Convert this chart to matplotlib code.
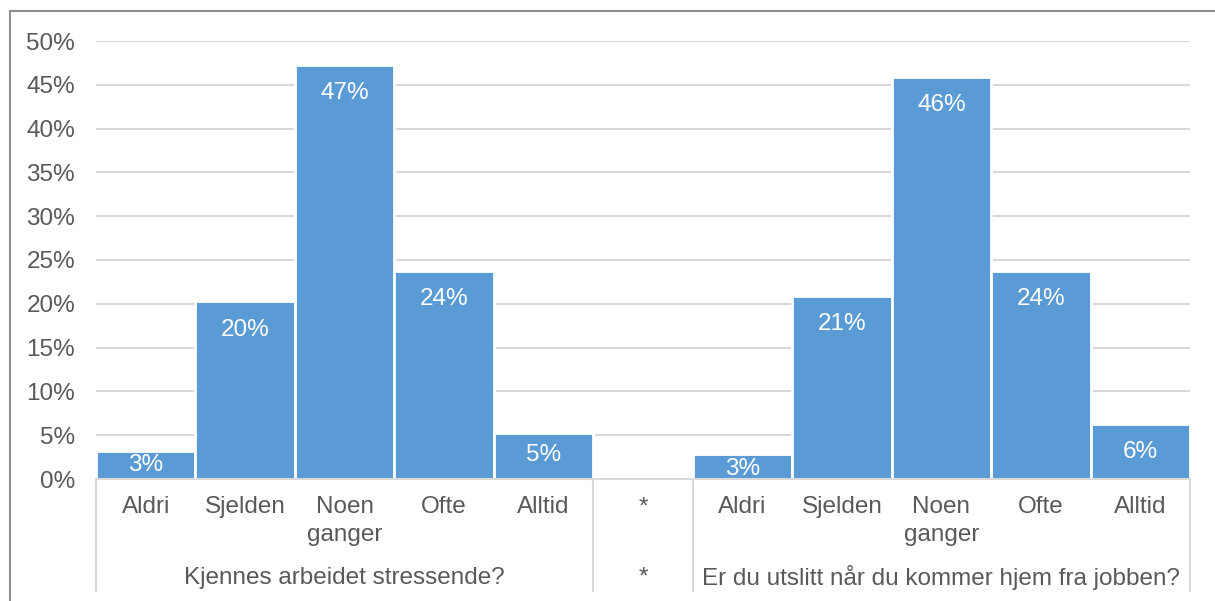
import matplotlib
matplotlib.use("Agg")
import matplotlib.pyplot as plt
from matplotlib.patches import Rectangle
from matplotlib.lines import Line2D

categories = ["Aldri", "Sjelden", "Noen\nganger", "Ofte", "Alltid", "*",
              "Aldri", "Sjelden", "Noen\nganger", "Ofte", "Alltid"]
values = [3.2, 20.3, 47.3, 23.8, 5.3, None, 2.8, 20.9, 45.9, 23.8, 6.3]
labels = ["3%", "20%", "47%", "24%", "5%", "", "3%", "21%", "46%", "24%", "6%"]
groups = ["Kjennes arbeidet stressende?", "*", "Er du utslitt når du kommer hjem fra jobben?"]
group_spans = [(0, 5), (5, 6), (6, 11)]
yticks = [0, 5, 10, 15, 20, 25, 30, 35, 40, 45, 50]

plt.rcParams['font.family'] = ['Liberation Sans', 'DejaVu Sans']
FS = 17.5
TXT = "#595959"
W, H = 1215, 601
fig = plt.figure(figsize=(W / 100, H / 100), dpi=100)
fig.patch.set_facecolor("white")

# outer chart border (right/bottom edges fall outside the image)
fig.patches.append(Rectangle((10 / W, -0.05), 1.1, 1 - 11 / H + 0.05,
                             transform=fig.transFigure, fill=False,
                             edgecolor="#8c8c8c", linewidth=1.5, clip_on=False))

x0, x1 = 96 / W, 1190 / W
y0, y1 = 1 - 479 / H, 1 - 41 / H
ax = fig.add_axes([x0, y0, x1 - x0, y1 - y0])
n = len(categories)
xs = list(range(n))
bx = [x for x, v in zip(xs, values) if v is not None]
bv = [v for v in values if v is not None]
bl = [l for l, v in zip(labels, values) if v is not None]
bars = ax.bar(bx, bv, width=1.0, color="#5b9bd5", edgecolor="white", linewidth=2.0, zorder=3)
for b, lab in zip(bars, bl):
    h = b.get_height()
    ly = max(h - 3.0, min(2.97, h - 1.4)) - 0.25
    ax.text(b.get_x() + b.get_width() / 2, ly, lab,
            ha="center", va="center", color="white", fontsize=FS, zorder=4)

ax.set_xlim(-0.5, n - 0.5)
ax.set_ylim(0, 50)
ax.set_yticks(yticks)
ax.set_yticklabels([f"{t}%" for t in yticks])
ax.tick_params(axis="y", length=0, labelsize=FS, labelcolor=TXT, pad=15)
ax.set_xticks([])
ax.yaxis.grid(True, color="#d9d9d9", linewidth=1.5, zorder=0)
for s in ["top", "right", "left"]:
    ax.spines[s].set_visible(False)
ax.spines["bottom"].set_color("#d9d9d9")
ax.spines["bottom"].set_linewidth(1.5)
ax.spines["bottom"].set_zorder(5)

# category labels (each line placed separately)
for x, c in zip(xs, categories):
    for i, line in enumerate(c.split("\n")):
        ax.text(x, -3.2 - 3.2 * i, line, ha="center", va="center", fontsize=FS,
                color=TXT, clip_on=False)
# group labels
for g, (a, b) in zip(groups, group_spans):
    ax.text((a + b - 1) / 2, -11.3, g, ha="center", va="center", fontsize=FS,
            color=TXT, clip_on=False)
# separators
for xb in [-0.5, 4.5, 5.5, 10.5]:
    ax.add_line(Line2D([xb, xb], [0, -12.8], color="#d9d9d9", linewidth=1.5, clip_on=False))

fig.savefig("out.png", dpi=100, facecolor="white")
